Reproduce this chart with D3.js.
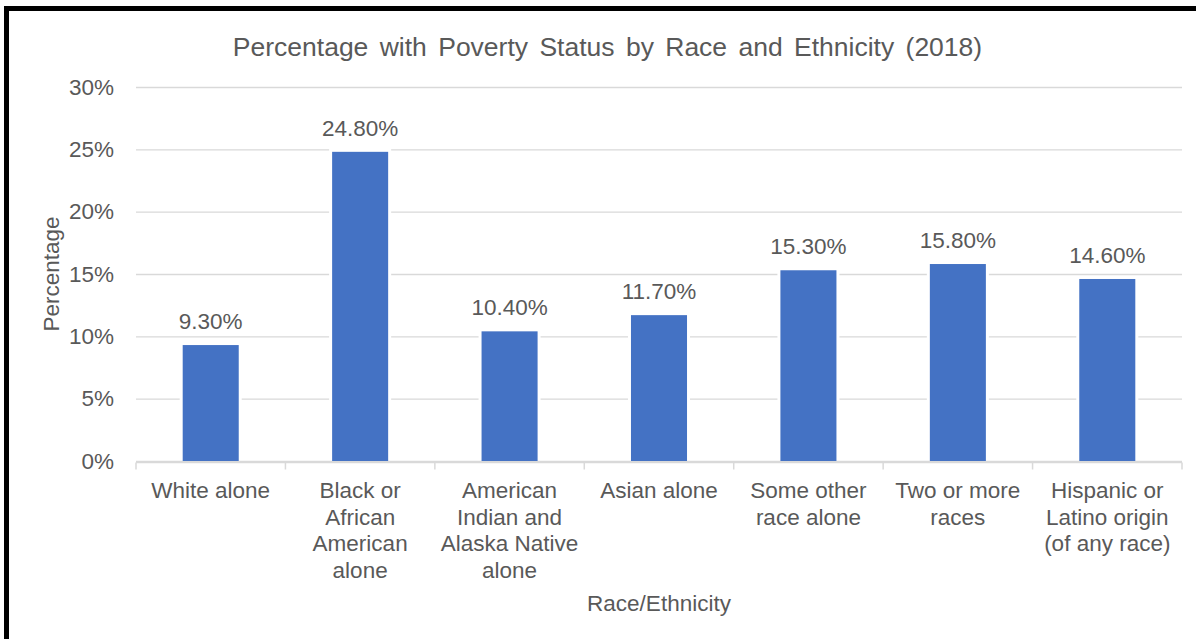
<!DOCTYPE html>
<html>
<head>
<meta charset="utf-8">
<script src="https://cdn.jsdelivr.net/npm/d3@7/dist/d3.min.js"></script>
<style>
  html, body { margin: 0; padding: 0; background: #fff; }
  svg { display: block; font-family: "Liberation Sans", Arial, sans-serif; }
</style>
</head>
<body>
<svg id="chart" width="1196" height="639"></svg>
<script>
// Poverty rates by race and ethnicity, 2018
const categories = [
  "White alone",
  "Black or African American alone",
  "American Indian and Alaska Native alone",
  "Asian alone",
  "Some other race alone",
  "Two or more races",
  "Hispanic or Latino origin (of any race)"
];
const values = [0.093, 0.248, 0.104, 0.117, 0.153, 0.158, 0.146];
const yTicks = [0, 0.05, 0.10, 0.15, 0.20, 0.25, 0.30];

const titleText = "Percentage with Poverty Status by Race and Ethnicity (2018)";
const xTitle = "Race/Ethnicity";
const yTitle = "Percentage";

const textColor = "#595959";
const gridColor = "#D9D9D9";
const barColor = "#4472C4";

const svg = d3.select("#chart");

// outer frame
svg.append("rect")
  .attr("x", 6.5).attr("y", 8.5)
  .attr("width", 1400).attr("height", 1000)
  .attr("fill", "none").attr("stroke", "#000").attr("stroke-width", 5);

const plot = { left: 136, right: 1182, top: 87, bottom: 461 };

const x = d3.scaleBand()
  .domain(categories)
  .range([plot.left, plot.right])
  .paddingInner(0.625)
  .paddingOuter(0.3125);

const y = d3.scaleLinear()
  .domain([0, 0.30])
  .range([plot.bottom, plot.top]);

// title
svg.append("text")
  .attr("x", 607.5).attr("y", 56)
  .attr("text-anchor", "middle")
  .attr("fill", textColor)
  .style("font-size", "26.5px")
  .style("word-spacing", "4px")
  .text(titleText);

// y axis with gridlines
const yAxis = svg.append("g")
  .attr("transform", `translate(${plot.left},0)`)
  .call(d3.axisLeft(y)
    .tickValues(yTicks)
    .tickFormat(d3.format(".0%"))
    .tickSize(-(plot.right - plot.left))
    .tickPadding(22));
yAxis.select(".domain").remove();
yAxis.selectAll(".tick line").attr("stroke", gridColor).attr("stroke-width", 1.3);
yAxis.selectAll(".tick text")
  .attr("fill", textColor)
  .style("font-size", "22.5px")
  .style("font-family", "'Liberation Sans', Arial, sans-serif");

// bars: white halo first so gridlines break around each bar
const barG = svg.append("g");
barG.selectAll("rect.halo")
  .data(values)
  .join("rect")
  .attr("class", "halo")
  .attr("x", (d, i) => x(categories[i]) - 3)
  .attr("width", x.bandwidth() + 6)
  .attr("y", d => y(d) - 3)
  .attr("height", d => plot.bottom - y(d) + 2)
  .attr("fill", "#fff");
barG.selectAll("rect.bar")
  .data(values)
  .join("rect")
  .attr("class", "bar")
  .attr("x", (d, i) => x(categories[i]))
  .attr("width", x.bandwidth())
  .attr("y", d => y(d))
  .attr("height", d => plot.bottom - y(d))
  .attr("fill", barColor);

// value labels
barG.selectAll("text.value")
  .data(values)
  .join("text")
  .attr("class", "value")
  .attr("x", (d, i) => x(categories[i]) + x.bandwidth() / 2)
  .attr("y", d => y(d) - 16)
  .attr("text-anchor", "middle")
  .attr("fill", textColor)
  .style("font-size", "22.5px")
  .text(d => d3.format(".2%")(d));

// category axis line and tick marks at band boundaries
const axisY = plot.bottom + 1.5;
svg.append("line")
  .attr("x1", plot.left).attr("x2", plot.right)
  .attr("y1", axisY).attr("y2", axisY)
  .attr("stroke", gridColor).attr("stroke-width", 1.5);
const boundaries = d3.range(categories.length + 1)
  .map(i => plot.left + i * x.step());
svg.selectAll("line.xtick")
  .data(boundaries)
  .join("line")
  .attr("class", "xtick")
  .attr("x1", d => d).attr("x2", d => d)
  .attr("y1", axisY).attr("y2", axisY + 7)
  .attr("stroke", gridColor).attr("stroke-width", 1.5);

// wrapped category labels
const lineH = 26.6;
const maxW = x.step() - 3;
const catG = svg.append("g");
categories.forEach(c => {
  const t = catG.append("text")
    .attr("x", x(c) + x.bandwidth() / 2)
    .attr("y", 498)
    .attr("text-anchor", "middle")
    .attr("fill", textColor)
    .style("font-size", "22.5px");
  const words = c.split(" ");
  let line = [];
  let n = 0;
  let ts = t.append("tspan").attr("x", x(c) + x.bandwidth() / 2).attr("dy", 0);
  words.forEach(w => {
    line.push(w);
    ts.text(line.join(" "));
    if (ts.node().getComputedTextLength() > maxW && line.length > 1) {
      line.pop();
      ts.text(line.join(" "));
      line = [w];
      n++;
      ts = t.append("tspan")
        .attr("x", x(c) + x.bandwidth() / 2)
        .attr("dy", lineH)
        .text(w);
    }
  });
});

// axis titles
svg.append("text")
  .attr("x", (plot.left + plot.right) / 2)
  .attr("y", 611)
  .attr("text-anchor", "middle")
  .attr("fill", textColor)
  .style("font-size", "22.5px")
  .text(xTitle);

svg.append("text")
  .attr("transform", `translate(59,${(plot.top + plot.bottom) / 2}) rotate(-90)`)
  .attr("text-anchor", "middle")
  .attr("fill", textColor)
  .style("font-size", "22.5px")
  .text(yTitle);
</script>
</body>
</html>
